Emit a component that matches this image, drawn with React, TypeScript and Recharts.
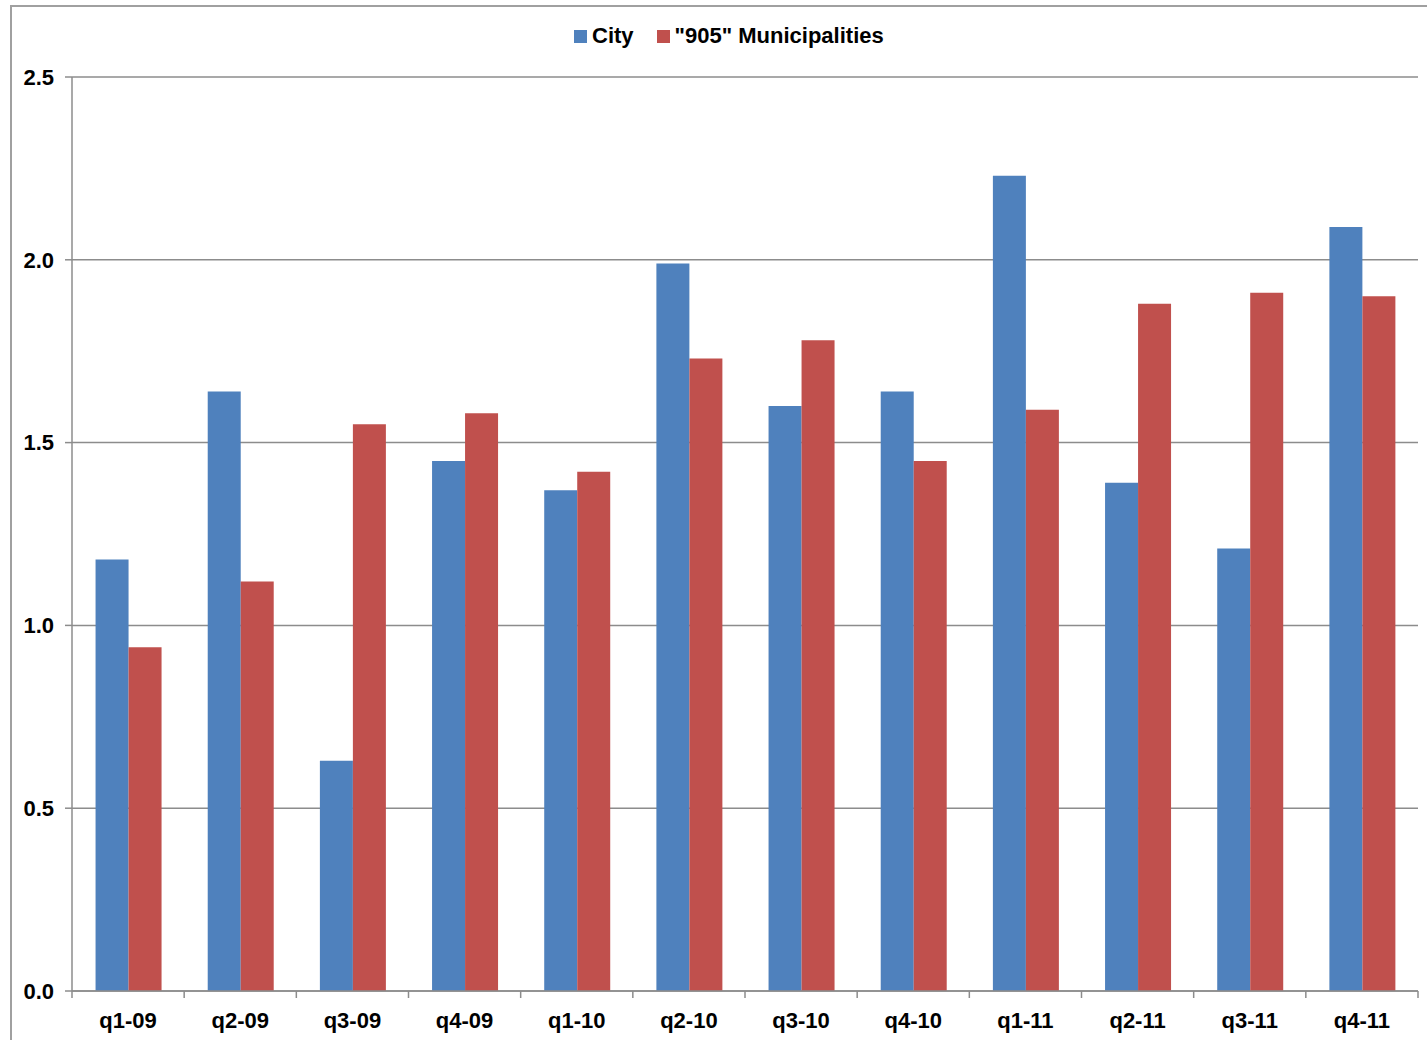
import { BarChart, Bar, XAxis, YAxis, CartesianGrid } from "recharts";

const quarters = [
  "q1-09", "q2-09", "q3-09", "q4-09",
  "q1-10", "q2-10", "q3-10", "q4-10",
  "q1-11", "q2-11", "q3-11", "q4-11",
];
const cityValues = [1.18, 1.64, 0.63, 1.45, 1.37, 1.99, 1.6, 1.64, 2.23, 1.39, 1.21, 2.09];
const muniValues = [0.94, 1.12, 1.55, 1.58, 1.42, 1.73, 1.78, 1.45, 1.59, 1.88, 1.91, 1.9];
const yTicks = [0, 0.5, 1.0, 1.5, 2.0, 2.5];

const data = quarters.map((q, i) => ({ q, city: cityValues[i], muni: muniValues[i] }));

const W = 1427;
const H = 1040;
const M = { top: 77, right: 9, bottom: 19, left: 10 };
const Y_W = 62;
const plotW = W - M.left - M.right - Y_W;
const band = plotW / quarters.length;

const FONT = "'Liberation Sans', Arial, sans-serif";
const AXIS = "#8c8c8c";
const BLUE = "#4F81BD";
const RED = "#C0504D";

const XTick = (props: any) => {
  const { x, y, payload, index } = props;
  const half = band / 2;
  return (
    <g>
      <line x1={x - half} x2={x - half} y1={y - 8} y2={y - 1} stroke={AXIS} strokeWidth={1.5} />
      {index === quarters.length - 1 && (
        <line x1={x + half} x2={x + half} y1={y - 8} y2={y - 1} stroke={AXIS} strokeWidth={1.5} />
      )}
      <text x={x} y={y + 29} textAnchor="middle" fontFamily={FONT} fontWeight="bold" fontSize={22} fill="#000">
        {payload.value}
      </text>
    </g>
  );
};

// legend drawn as plain html above the plot
const legendItems = [
  { label: "City", color: BLUE },
  { label: '"905" Municipalities', color: RED },
];

export default function App() {
  return (
    <div style={{ position: "fixed", left: 0, top: 0, width: W, height: H, overflow: "hidden", background: "#fff" }}>
      <div style={{ position: "absolute", left: 0, top: 0 }}>
        <BarChart width={W} height={H} data={data} margin={M} barCategoryGap="21%" barGap={0}>
          <CartesianGrid vertical={false} stroke={AXIS} strokeWidth={1.5} />
          <XAxis
            dataKey="q"
            height={30}
            axisLine={{ stroke: AXIS, strokeWidth: 1.5 }}
            tickLine={false}
            tick={<XTick />}
            interval={0}
          />
          <YAxis
            width={Y_W}
            domain={[0, 2.5]}
            ticks={yTicks}
            tickFormatter={(v: number) => v.toFixed(1)}
            axisLine={{ stroke: AXIS, strokeWidth: 1.5 }}
            tickLine={{ stroke: AXIS, strokeWidth: 1.5 }}
            tickSize={7}
            tickMargin={11}
            tick={{ fill: "#000", fontFamily: FONT, fontWeight: "bold", fontSize: 22 }}
          />
          <Bar dataKey="city" name="City" fill={BLUE} isAnimationActive={false} />
          <Bar dataKey="muni" name={'"905" Municipalities'} fill={RED} isAnimationActive={false} />
        </BarChart>
      </div>
      <div
        style={{
          position: "absolute",
          left: 574,
          top: 22,
          display: "flex",
          gap: 23,
          fontFamily: FONT,
          fontWeight: "bold",
          fontSize: 22,
          lineHeight: "28px",
        }}
      >
        {legendItems.map((it) => (
          <div key={it.label} style={{ display: "flex", alignItems: "center", gap: 5 }}>
            <div style={{ width: 13, height: 13, background: it.color }} />
            <span>{it.label}</span>
          </div>
        ))}
      </div>
      {/* outer frame, runs off the right and bottom edges */}
      <div style={{ position: "absolute", left: 10, top: 5, width: W, height: 2, background: "#a0a0a0" }} />
      <div style={{ position: "absolute", left: 10, top: 5, width: 2, height: H, background: "#a0a0a0" }} />
    </div>
  );
}
